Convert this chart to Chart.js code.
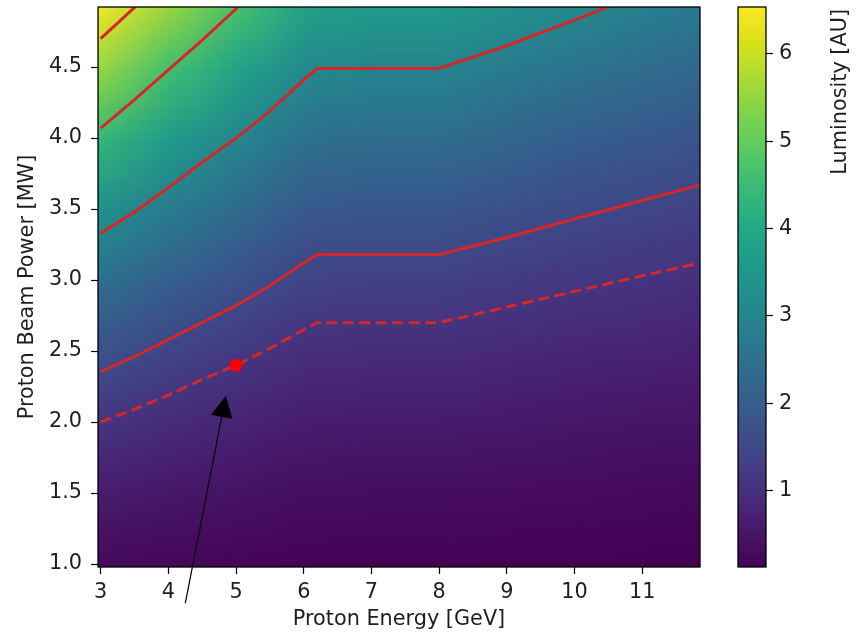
<!DOCTYPE html>
<html>
<head>
<meta charset="utf-8">
<script src="https://cdn.jsdelivr.net/npm/chart.js@4/dist/chart.umd.min.js"></script>
<style>
  html, body { margin: 0; padding: 0; background: #ffffff; }
  #wrap { width: 862px; height: 635px; position: relative; }
</style>
</head>
<body>
<div id="wrap"><canvas id="chart" width="862" height="635"></canvas></div>
<script>
// ---- axis ticks ----
const energyTicks = [3, 4, 5, 6, 7, 8, 9, 10, 11];
const powerTicks = [1.0, 1.5, 2.0, 2.5, 3.0, 3.5, 4.0, 4.5];
const colorbarTicks = [1, 2, 3, 4, 5, 6];

// ---- luminosity map [AU] sampled on an energy x power grid ----
const heatEnergies = [3, 4, 5, 6, 7, 8, 9, 10, 11, 12];
const heatPowers = [1.0, 1.5, 2.0, 2.5, 3.0, 3.5, 4.0, 4.5, 5.0];
const lumAtP10 = [0.27, 0.23, 0.19, 0.15, 0.15, 0.15, 0.14, 0.13, 0.12, 0.11];
const lumAtP15 = [0.61, 0.51, 0.42, 0.35, 0.33, 0.33, 0.31, 0.29, 0.26, 0.25];
const lumAtP20 = [1.08, 0.90, 0.75, 0.62, 0.59, 0.59, 0.55, 0.51, 0.47, 0.44];
const lumAtP25 = [1.69, 1.41, 1.18, 0.96, 0.93, 0.93, 0.86, 0.79, 0.74, 0.69];
const lumAtP30 = [2.43, 2.03, 1.70, 1.39, 1.33, 1.33, 1.23, 1.14, 1.06, 0.99];
const lumAtP35 = [3.31, 2.76, 2.31, 1.89, 1.82, 1.82, 1.68, 1.55, 1.44, 1.34];
const lumAtP40 = [4.33, 3.61, 3.02, 2.47, 2.37, 2.37, 2.19, 2.03, 1.88, 1.75];
const lumAtP45 = [5.48, 4.56, 3.82, 3.12, 3.00, 3.00, 2.77, 2.57, 2.38, 2.22];
const lumAtP50 = [6.76, 5.64, 4.72, 3.85, 3.71, 3.71, 3.42, 3.17, 2.94, 2.74];
const lumRows = [lumAtP10, lumAtP15, lumAtP20, lumAtP25, lumAtP30, lumAtP35, lumAtP40, lumAtP45, lumAtP50];
const lumRange = [0.12, 6.53];

// ---- iso-luminosity contours: beam power [MW] needed at each energy ----
const contourEnergy = [3, 3.5, 4, 4.5, 5, 5.5, 6, 6.2, 8, 9, 10, 11, 11.86];
const powerAtOperatingLum = [2.00, 2.09, 2.19, 2.30, 2.40, 2.52, 2.65, 2.70, 2.70, 2.81, 2.92, 3.03, 3.12];
const powerAtLum15 = [2.355, 2.46, 2.58, 2.70, 2.82, 2.96, 3.12, 3.18, 3.18, 3.30, 3.43, 3.56, 3.67];
const powerAtLum30 = [3.33, 3.48, 3.65, 3.83, 4.00, 4.19, 4.41, 4.49, 4.49, 4.65, 4.83, 5.02];
const powerAtLum45 = [4.07, 4.27, 4.48, 4.69, 4.91, 5.15];
const powerAtLum60 = [4.70, 4.92, 5.16];

// ---- operating point and its annotation arrow ----
const operatingEnergy = [5];
const operatingPower = [2.4];
const arrowTail = { energy: 4.25, power: 0.725 };
const arrowHead = { energy: 4.85, power: 2.185 };

// viridis colour stops
const VIRIDIS = ['#440154', '#471365', '#482475', '#463480', '#414487', '#3b528b', '#355f8d',
  '#2f6c8e', '#2a788e', '#25848e', '#21918c', '#1e9c89', '#22a884', '#2fb47c', '#44bf70',
  '#5ec962', '#7ad151', '#9bd93c', '#bddf26', '#dfe318', '#fde725'];
const VIR_RGB = VIRIDIS.map(h => [parseInt(h.slice(1, 3), 16), parseInt(h.slice(3, 5), 16), parseInt(h.slice(5, 7), 16)]);
function viridis(t) {
  t = Math.max(0, Math.min(1, t));
  const s = t * (VIR_RGB.length - 1);
  const i = Math.min(Math.floor(s), VIR_RGB.length - 2);
  const f = s - i;
  const a = VIR_RGB[i], b = VIR_RGB[i + 1];
  return [0, 1, 2].map(k => Math.round(a[k] + (b[k] - a[k]) * f));
}

const RED = '#d62728';
const TEXT = '#1e1e1e';
const FONT_FAMILY = "'DejaVu Sans', 'Liberation Sans', sans-serif";
const FONT = { family: FONT_FAMILY, size: 20.8 };

const pts = (xs, ys) => ys.map((y, i) => ({ x: xs[i], y }));

// luminosity map painted under the datasets, positioned through the scales
const heatmapPlugin = {
  id: 'heatmap',
  beforeDatasetsDraw(chart) {
    const { ctx, chartArea: ca, scales: { x, y } } = chart;
    const nE = heatEnergies.length, nP = heatPowers.length;
    const off = document.createElement('canvas');
    off.width = nE; off.height = nP;
    const octx = off.getContext('2d');
    const img = octx.createImageData(nE, nP);
    for (let r = 0; r < nP; r++) {
      const row = nP - 1 - r;
      for (let c = 0; c < nE; c++) {
        const t = (lumRows[r][c] - lumRange[0]) / (lumRange[1] - lumRange[0]);
        const [R, G, B] = viridis(t);
        const k = (row * nE + c) * 4;
        img.data[k] = R; img.data[k + 1] = G; img.data[k + 2] = B; img.data[k + 3] = 255;
      }
    }
    octx.putImageData(img, 0, 0);
    const x0 = x.getPixelForValue(heatEnergies[0]);
    const x1 = x.getPixelForValue(heatEnergies[nE - 1]);
    const cw = (x1 - x0) / (nE - 1);
    const yTop = y.getPixelForValue(heatPowers[nP - 1]);
    const yBot = y.getPixelForValue(heatPowers[0]);
    const ch = (yBot - yTop) / (nP - 1);
    ctx.save();
    ctx.beginPath();
    ctx.rect(ca.left, ca.top, ca.right - ca.left, ca.bottom - ca.top);
    ctx.clip();
    ctx.imageSmoothingEnabled = true;
    ctx.imageSmoothingQuality = 'low';
    ctx.drawImage(off, x0 - cw / 2, yTop - ch / 2, cw * nE, ch * nP);
    ctx.restore();
  }
};

// frame, colour bar and annotation arrow
const overlayPlugin = {
  id: 'overlay',
  afterDatasetsDraw(chart) {
    const { ctx, chartArea: ca } = chart;
    ctx.save();
    ctx.strokeStyle = '#000';
    ctx.lineWidth = 1.3;
    ctx.strokeRect(ca.left, ca.top, ca.right - ca.left, ca.bottom - ca.top);
    ctx.restore();
  },
  afterDraw(chart) {
    const { ctx, chartArea: ca, scales: { x, y } } = chart;
    ctx.save();
    // colour bar
    const cbL = 738, cbR = 766, cbT = ca.top, cbB = ca.bottom;
    const grad = ctx.createLinearGradient(0, cbB, 0, cbT);
    for (let i = 0; i <= 50; i++) {
      const [R, G, B] = viridis(i / 50);
      grad.addColorStop(i / 50, `rgb(${R},${G},${B})`);
    }
    ctx.fillStyle = grad;
    ctx.fillRect(cbL, cbT, cbR - cbL, cbB - cbT);
    ctx.strokeStyle = '#000';
    ctx.lineWidth = 1.3;
    ctx.strokeRect(cbL, cbT, cbR - cbL, cbB - cbT);
    const cbY = v => cbB - (v - lumRange[0]) / (lumRange[1] - lumRange[0]) * (cbB - cbT);
    ctx.fillStyle = TEXT;
    ctx.font = `${FONT.size}px ${FONT_FAMILY}`;
    ctx.textAlign = 'left';
    ctx.textBaseline = 'middle';
    ctx.lineWidth = 1.2;
    colorbarTicks.forEach(v => {
      const yy = Math.round(cbY(v)) + 0.5;
      ctx.beginPath();
      ctx.moveTo(cbR, yy); ctx.lineTo(cbR + 7, yy);
      ctx.stroke();
      ctx.fillText(String(v), cbR + 13, yy);
    });
    // colour bar label
    ctx.save();
    ctx.translate(841, cbT + 2);
    ctx.rotate(-Math.PI / 2);
    ctx.textAlign = 'right';
    ctx.textBaseline = 'middle';
    ctx.fillText('Luminosity [AU]', 0, 0);
    ctx.restore();

    // arrow pointing at the operating point
    const ax0 = x.getPixelForValue(arrowTail.energy), ay0 = y.getPixelForValue(arrowTail.power);
    const ax1 = x.getPixelForValue(arrowHead.energy), ay1 = y.getPixelForValue(arrowHead.power);
    const dx = ax1 - ax0, dy = ay1 - ay0, len = Math.hypot(dx, dy);
    const ux = dx / len, uy = dy / len;
    const headLen = 21.5, headHalf = 11;
    const bx = ax1 - ux * headLen, by = ay1 - uy * headLen;
    ctx.strokeStyle = '#000';
    ctx.lineWidth = 1.2;
    ctx.beginPath();
    ctx.moveTo(ax0, ay0); ctx.lineTo(bx, by);
    ctx.stroke();
    ctx.fillStyle = '#000';
    ctx.beginPath();
    ctx.moveTo(ax1, ay1);
    ctx.lineTo(bx - uy * headHalf, by + ux * headHalf);
    ctx.lineTo(bx + uy * headHalf, by - ux * headHalf);
    ctx.closePath();
    ctx.fill();
    ctx.restore();
  }
};

const contourStyle = { showLine: true, borderColor: RED, borderWidth: 3, pointRadius: 0, fill: false, clip: 0, tension: 0 };

new Chart(document.getElementById('chart'), {
  type: 'scatter',
  data: {
    datasets: [
      Object.assign({ label: 'L op', data: pts(contourEnergy, powerAtOperatingLum), borderDash: [11, 5.5], order: 5 }, contourStyle),
      Object.assign({ label: 'L 1.5', data: pts(contourEnergy, powerAtLum15), order: 4 }, contourStyle),
      Object.assign({ label: 'L 3.0', data: pts(contourEnergy, powerAtLum30), order: 3 }, contourStyle),
      Object.assign({ label: 'L 4.5', data: pts(contourEnergy, powerAtLum45), order: 2 }, contourStyle),
      Object.assign({ label: 'L 6.0', data: pts(contourEnergy, powerAtLum60), order: 1 }, contourStyle),
      { label: 'operating point', data: pts(operatingEnergy, operatingPower), pointRadius: 6.5,
        pointBackgroundColor: '#ff0000', pointBorderWidth: 0, showLine: false, order: 0 }
    ]
  },
  options: {
    responsive: false,
    animation: false,
    events: [],
    layout: { padding: { top: 7, right: 162, left: 0, bottom: 0 } },
    plugins: { legend: { display: false }, tooltip: { enabled: false } },
    scales: {
      x: {
        type: 'linear', min: 2.96, max: 11.855,
        afterBuildTicks: s => { s.ticks = energyTicks.map(v => ({ value: v })); },
        afterFit: s => { s.height = 68; s.paddingLeft = 0; s.paddingRight = 0; },
        ticks: { font: FONT, color: TEXT, padding: 6, maxRotation: 0, autoSkip: false, callback: v => String(v) },
        grid: { drawOnChartArea: false, drawTicks: true, tickLength: 7, tickColor: '#000', tickWidth: 1.2 },
        border: { display: false },
        title: { display: true, text: 'Proton Energy [GeV]', font: FONT, color: TEXT, padding: { top: 0, bottom: 2.5 } }
      },
      y: {
        type: 'linear', min: 0.979, max: 4.923,
        afterBuildTicks: s => { s.ticks = powerTicks.map(v => ({ value: v })); },
        afterFit: s => { s.width = 98; s.paddingTop = 0; s.paddingBottom = 0; },
        ticks: { font: FONT, color: TEXT, padding: 9, autoSkip: false, callback: v => Number(v).toFixed(1) },
        grid: { drawOnChartArea: false, drawTicks: true, tickLength: 7, tickColor: '#000', tickWidth: 1.2 },
        border: { display: false },
        title: { display: true, text: 'Proton Beam Power [MW]', font: FONT, color: TEXT, padding: { top: 15.5, bottom: 0 } }
      }
    }
  },
  plugins: [heatmapPlugin, overlayPlugin]
});
</script>
</body>
</html>
